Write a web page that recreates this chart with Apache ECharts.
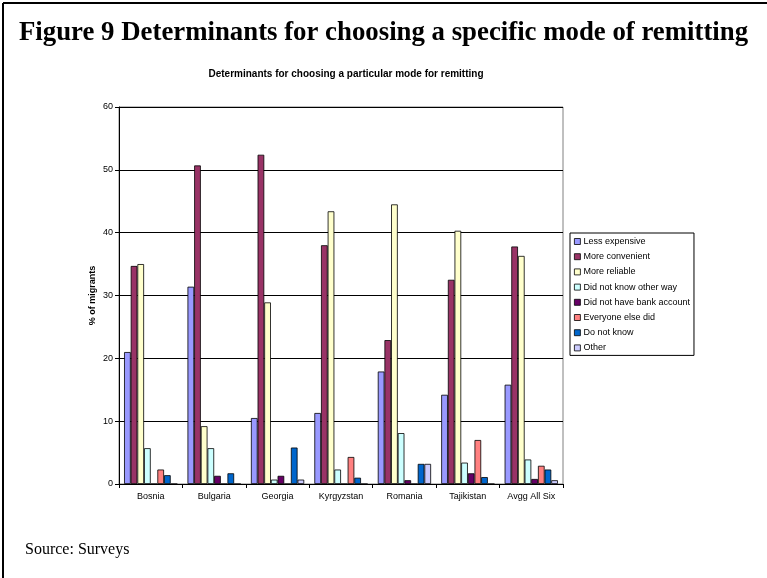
<!DOCTYPE html>
<html>
<head>
<meta charset="utf-8">
<script src="https://cdn.jsdelivr.net/npm/echarts@6/dist/echarts.min.js"></script>
<style>
html,body{margin:0;padding:0;background:#fff;}
#c{width:767px;height:578px;}
</style>
</head>
<body>
<div id="c"></div>
<script>
const categories = ['Bosnia','Bulgaria','Georgia','Kyrgyzstan','Romania','Tajikistan','Avgg All Six'];
const seriesNames = ['Less expensive','More convenient','More reliable','Did not know other way','Did not have bank account','Everyone else did','Do not know','Other'];
const lessExpensive   = [21.0, 31.4, 10.5, 11.3, 17.9, 14.2, 15.8];
const moreConvenient  = [34.7, 50.7, 52.4, 38.0, 22.9, 32.5, 37.8];
const moreReliable    = [35.0, 9.2, 28.9, 43.4, 44.5, 40.3, 36.3];
const didNotKnowOther = [5.7, 5.7, 0.7, 2.3, 8.1, 3.4, 3.9];
const noBankAccount   = [0, 1.3, 1.3, 0, 0.6, 1.7, 0.8];
const everyoneElse    = [2.3, 0, 0, 4.3, 0, 7.0, 2.9];
const doNotKnow       = [1.4, 1.7, 5.8, 1.0, 3.2, 1.1, 2.3];
const other           = [0, 0, 0.7, 0, 3.2, 0, 0.6];
const yTicks = [0, 10, 20, 30, 40, 50, 60];

const seriesData = [lessExpensive, moreConvenient, moreReliable, didNotKnowOther, noBankAccount, everyoneElse, doNotKnow, other];
const colors = ['#9999FF','#993366','#FFFFCC','#CCFFFF','#660066','#FF8080','#0066CC','#CCCCFF'];

const chart = echarts.init(document.getElementById('c'), null, {renderer:'canvas'});
chart.setOption({
  animation:false,
  backgroundColor:'#fff',
  color: colors,
  title:{
    text:'Determinants for choosing a particular mode for remitting',
    left:341, top:64, textAlign:'center',
    textStyle:{fontFamily:'Liberation Sans, Arial', fontSize:10, fontWeight:'bold', color:'#000'}
  },
  legend:{
    orient:'vertical',
    left:570, top:233,
    padding:[4,4,3,4],
    itemWidth:6, itemHeight:6, itemGap:6.2,
    borderColor:'#000', borderWidth:1,
    icon:'rect',
    itemStyle:{borderColor:'#000', borderWidth:0.8},
    textStyle:{fontFamily:'Liberation Sans, Arial', fontSize:9, color:'#000', padding:[0,0,0,-2]},
    data: seriesNames
  },
  grid:{left:119, right:204, top:107, bottom:94, show:true, borderColor:'#808080', borderWidth:1},
  xAxis:{
    type:'category', data:categories,
    axisLine:{lineStyle:{color:'#000'}},
    axisTick:{show:true, length:4, lineStyle:{color:'#000'}},
    axisLabel:{fontFamily:'Liberation Sans, Arial', fontSize:9, color:'#000', margin:8}
  },
  yAxis:{
    type:'value', min:yTicks[0], max:yTicks[yTicks.length-1], interval:10,
    name:'% of migrants', nameLocation:'middle', nameGap:22, nameRotate:90, nameMoveOverlap:false,
    nameTextStyle:{fontFamily:'Liberation Sans, Arial', fontSize:9, fontWeight:'bold', color:'#000'},
    axisLine:{show:true, lineStyle:{color:'#000'}},
    axisTick:{show:true, inside:false, length:4, lineStyle:{color:'#000'}},
    axisLabel:{fontFamily:'Liberation Sans, Arial', fontSize:9, color:'#000', margin:6},
    splitLine:{show:true, lineStyle:{color:'#000', width:1}}
  },
  series: seriesNames.map((n,i)=>({
    name:n, type:'bar', data:seriesData[i],
    barGap:'0%', barCategoryGap:'16%',
    itemStyle:{color:colors[i], borderColor:'#000', borderWidth:0.8}
  })),
  graphic:[
    {type:'line', shape:{x1:3,y1:3,x2:767,y2:3}, style:{stroke:'#000', lineWidth:2}},
    {type:'line', shape:{x1:3,y1:3,x2:3,y2:578}, style:{stroke:'#000', lineWidth:2}},
    {type:'text', left:19, top:20, style:{text:'Figure 9 Determinants for choosing a specific mode of remitting', font:'bold 26.8px "Liberation Serif", "Times New Roman", serif', fill:'#000'}},
    {type:'text', left:25, top:542, style:{text:'Source: Surveys', font:'16px "Liberation Serif", "Times New Roman", serif', fill:'#000'}}
  ]
});
</script>
</body>
</html>
